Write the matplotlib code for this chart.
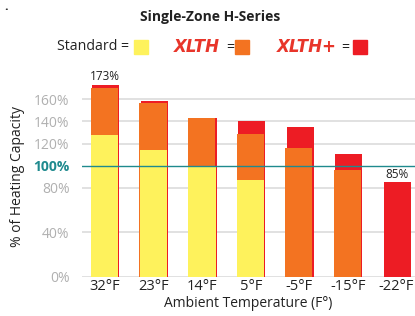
import matplotlib
matplotlib.use("Agg")
import matplotlib.pyplot as plt
from matplotlib.patches import Rectangle
import numpy as np

plt.rcParams['font.family'] = ['Open Sans', 'DejaVu Sans']

categories = ['32°F', '23°F', '14°F', '5°F', '-5°F', '-15°F', '-22°F']
standard = [128, 114, 100, 87, 0, 0, 0]
xlth = [170, 157, 143, 129, 116, 96, 0]
xlth_plus = [173, 158, 143, 140, 135, 111, 85]
yticks = [0, 40, 80, 100, 120, 140, 160]
ytick_labels = ['0%', '40%', '80%', '100%', '120%', '140%', '160%']
annotations = {0: '173%', 6: '85%'}

YELLOW = '#FEF25C'
ORANGE = '#F37321'
RED = '#ED1C24'
TEAL = '#1F8A8E'
GRID = '#DEDEDE'

fig = plt.figure(figsize=(4.15, 3.16), dpi=100)
ax = fig.add_axes([82/415, 1 - 276.7/316, 333/415, 199.6/316])

x = np.arange(len(categories))
w = 0.56
ax.bar(x + 0.02, xlth_plus, width=w, color=RED, zorder=2)
ax.bar(x - 0.01, xlth, width=w, color=ORANGE, zorder=3)
ax.bar(x, standard, width=w, color=YELLOW, zorder=4)

for yv in yticks:
    if yv == 100:
        ax.axhline(yv, color=TEAL, lw=1.0, zorder=6)
    else:
        ax.axhline(yv, color=GRID, lw=1.3, zorder=1)

for i, txt in annotations.items():
    ax.text(x[i], xlth_plus[i] + 1.5, txt, ha='center', va='bottom', fontsize=8.5, color='#222222')

ax.set_xlim(-0.47, 6.38)
ax.set_ylim(0, 180)
ax.set_xticks(x)
ax.set_xticklabels(categories, fontsize=10.5, color='#222222')
ax.set_yticks(yticks)
ax.set_yticklabels(ytick_labels, fontsize=10, color='#B0B0B0')
for lbl in ax.get_yticklabels():
    if lbl.get_text() == '100%':
        lbl.set_color(TEAL)
        lbl.set_fontweight('bold')
ax.tick_params(length=0, axis='y', pad=9)
ax.tick_params(length=0, axis='x', pad=2)
for s in ax.spines.values():
    s.set_visible(False)
ax.set_ylabel('% of Heating Capacity', fontsize=10, color='#222222', labelpad=6)
ax.set_xlabel('Ambient Temperature (F°)', fontsize=10, color='#222222', labelpad=1)

# Title
fig.text(210/415, 1 - 17/316, 'Single-Zone H-Series', ha='center', va='center',
         fontsize=10, fontweight='bold', color='#222222')

# Legend row
ly = 1 - 47/316
fig.text(57/415, ly, 'Standard =', ha='left', va='center', fontsize=10.2, color='#222222')
fig.text(174/415, ly, 'XLTH', ha='left', va='center', fontsize=12, fontweight='heavy',
         fontstyle='italic', color='#E8352A', family=['DejaVu Sans'])
fig.text(226/415, ly, '=', ha='left', va='center', fontsize=10.2, color='#222222')
fig.text(277/415, ly, 'XLTH+', ha='left', va='center', fontsize=12, fontweight='heavy',
         fontstyle='italic', color='#E8352A', family=['DejaVu Sans'])
fig.text(341/415, ly, '=', ha='left', va='center', fontsize=10.2, color='#222222')
for x0, c in [(134, YELLOW), (235, ORANGE), (353, RED)]:
    fig.add_artist(Rectangle((x0/415, 1 - 54/316), 14/415, 14/316,
                             transform=fig.transFigure, color=c))

fig.text(6/415, 1 - 7/316, '.', ha='center', va='center', fontsize=9, fontweight='bold', color='#222222')

fig.savefig('out.png', dpi=100)
